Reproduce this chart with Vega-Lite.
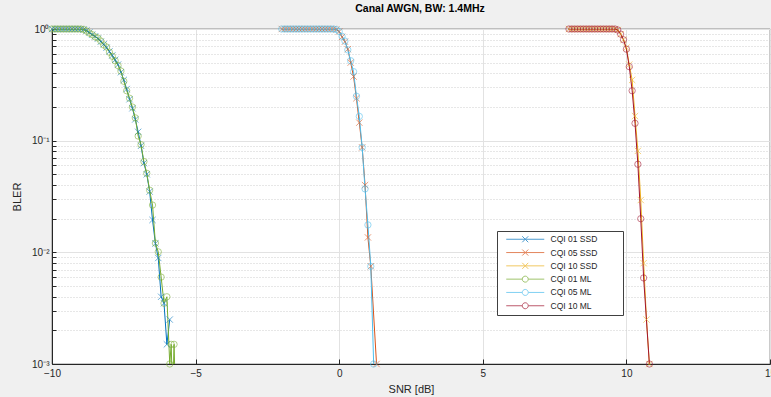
{
  "$schema": "https://vega.github.io/schema/vega-lite/v6.json",
  "width": 718,
  "height": 335,
  "autosize": {"type": "none"},
  "padding": {"left": 52, "top": 29, "right": 1, "bottom": 33},
  "background": "#f0f0f0",
  "title": {"text": "Canal AWGN, BW: 1.4MHz", "fontSize": 10.5, "fontWeight": "bold", "font": "Liberation Sans", "color": "#000000", "offset": 10, "dx": 9, "frame": "group"},
  "config": {
    "view": {"fill": "white", "stroke": "#262626", "strokeWidth": 0.6},
    "font": "Liberation Sans",
    "axis": {"labelFont": "Liberation Sans", "titleFont": "Liberation Sans"}
  },
  "data": {"values": [
    {"series":"CQI 01 SSD","snr":-10,"bler":1},{"series":"CQI 01 SSD","snr":-9.9,"bler":1},{"series":"CQI 01 SSD","snr":-9.8,"bler":1},{"series":"CQI 01 SSD","snr":-9.7,"bler":1},{"series":"CQI 01 SSD","snr":-9.6,"bler":1},{"series":"CQI 01 SSD","snr":-9.5,"bler":1},{"series":"CQI 01 SSD","snr":-9.4,"bler":1},{"series":"CQI 01 SSD","snr":-9.3,"bler":1},{"series":"CQI 01 SSD","snr":-9.2,"bler":1},{"series":"CQI 01 SSD","snr":-9.1,"bler":1},{"series":"CQI 01 SSD","snr":-9.0,"bler":1},
    {"series":"CQI 01 SSD","snr":-8.9,"bler":0.99},{"series":"CQI 01 SSD","snr":-8.8,"bler":0.97},{"series":"CQI 01 SSD","snr":-8.7,"bler":0.93},{"series":"CQI 01 SSD","snr":-8.6,"bler":0.89},{"series":"CQI 01 SSD","snr":-8.5,"bler":0.86},{"series":"CQI 01 SSD","snr":-8.4,"bler":0.82},{"series":"CQI 01 SSD","snr":-8.3,"bler":0.77},{"series":"CQI 01 SSD","snr":-8.2,"bler":0.73},{"series":"CQI 01 SSD","snr":-8.1,"bler":0.68},{"series":"CQI 01 SSD","snr":-8.0,"bler":0.63},{"series":"CQI 01 SSD","snr":-7.9,"bler":0.58},{"series":"CQI 01 SSD","snr":-7.8,"bler":0.53},{"series":"CQI 01 SSD","snr":-7.7,"bler":0.48},{"series":"CQI 01 SSD","snr":-7.6,"bler":0.41},{"series":"CQI 01 SSD","snr":-7.5,"bler":0.35},{"series":"CQI 01 SSD","snr":-7.4,"bler":0.29},{"series":"CQI 01 SSD","snr":-7.3,"bler":0.235},{"series":"CQI 01 SSD","snr":-7.2,"bler":0.195},{"series":"CQI 01 SSD","snr":-7.1,"bler":0.155},{"series":"CQI 01 SSD","snr":-7.0,"bler":0.12},{"series":"CQI 01 SSD","snr":-6.9,"bler":0.09},{"series":"CQI 01 SSD","snr":-6.8,"bler":0.063},{"series":"CQI 01 SSD","snr":-6.7,"bler":0.05},{"series":"CQI 01 SSD","snr":-6.6,"bler":0.035},{"series":"CQI 01 SSD","snr":-6.5,"bler":0.0195},{"series":"CQI 01 SSD","snr":-6.4,"bler":0.012},{"series":"CQI 01 SSD","snr":-6.3,"bler":0.0089},{"series":"CQI 01 SSD","snr":-6.2,"bler":0.004},{"series":"CQI 01 SSD","snr":-6.1,"bler":0.0035},{"series":"CQI 01 SSD","snr":-6.0,"bler":0.0015},{"series":"CQI 01 SSD","snr":-5.9,"bler":0.0025},
    {"series":"CQI 05 SSD","snr":-2.0,"bler":1},{"series":"CQI 05 SSD","snr":-1.9,"bler":1},{"series":"CQI 05 SSD","snr":-1.8,"bler":1},{"series":"CQI 05 SSD","snr":-1.7,"bler":1},{"series":"CQI 05 SSD","snr":-1.6,"bler":1},{"series":"CQI 05 SSD","snr":-1.5,"bler":1},{"series":"CQI 05 SSD","snr":-1.4,"bler":1},{"series":"CQI 05 SSD","snr":-1.3,"bler":1},{"series":"CQI 05 SSD","snr":-1.2,"bler":1},{"series":"CQI 05 SSD","snr":-1.1,"bler":1},{"series":"CQI 05 SSD","snr":-1.0,"bler":1},{"series":"CQI 05 SSD","snr":-0.9,"bler":1},{"series":"CQI 05 SSD","snr":-0.8,"bler":1},{"series":"CQI 05 SSD","snr":-0.7,"bler":1},{"series":"CQI 05 SSD","snr":-0.6,"bler":1},{"series":"CQI 05 SSD","snr":-0.5,"bler":1},{"series":"CQI 05 SSD","snr":-0.4,"bler":1},{"series":"CQI 05 SSD","snr":-0.3,"bler":1},{"series":"CQI 05 SSD","snr":-0.2,"bler":1},
    {"series":"CQI 05 SSD","snr":-0.1,"bler":0.99},{"series":"CQI 05 SSD","snr":0.0,"bler":0.95},{"series":"CQI 05 SSD","snr":0.1,"bler":0.85},{"series":"CQI 05 SSD","snr":0.2,"bler":0.77},{"series":"CQI 05 SSD","snr":0.3,"bler":0.66},{"series":"CQI 05 SSD","snr":0.4,"bler":0.5},{"series":"CQI 05 SSD","snr":0.5,"bler":0.375},{"series":"CQI 05 SSD","snr":0.6,"bler":0.24},{"series":"CQI 05 SSD","snr":0.7,"bler":0.145},{"series":"CQI 05 SSD","snr":0.8,"bler":0.087},{"series":"CQI 05 SSD","snr":0.9,"bler":0.04},{"series":"CQI 05 SSD","snr":1.0,"bler":0.0136},{"series":"CQI 05 SSD","snr":1.1,"bler":0.0075},{"series":"CQI 05 SSD","snr":1.3,"bler":0.001},
    {"series":"CQI 10 SSD","snr":8.0,"bler":1},{"series":"CQI 10 SSD","snr":8.1,"bler":1},{"series":"CQI 10 SSD","snr":8.2,"bler":1},{"series":"CQI 10 SSD","snr":8.3,"bler":1},{"series":"CQI 10 SSD","snr":8.4,"bler":1},{"series":"CQI 10 SSD","snr":8.5,"bler":1},{"series":"CQI 10 SSD","snr":8.6,"bler":1},{"series":"CQI 10 SSD","snr":8.7,"bler":1},{"series":"CQI 10 SSD","snr":8.8,"bler":1},{"series":"CQI 10 SSD","snr":8.9,"bler":1},{"series":"CQI 10 SSD","snr":9.0,"bler":1},{"series":"CQI 10 SSD","snr":9.1,"bler":1},{"series":"CQI 10 SSD","snr":9.2,"bler":1},{"series":"CQI 10 SSD","snr":9.3,"bler":1},{"series":"CQI 10 SSD","snr":9.4,"bler":1},{"series":"CQI 10 SSD","snr":9.5,"bler":1},{"series":"CQI 10 SSD","snr":9.6,"bler":1},
    {"series":"CQI 10 SSD","snr":9.7,"bler":0.98},{"series":"CQI 10 SSD","snr":9.8,"bler":0.9},{"series":"CQI 10 SSD","snr":9.9,"bler":0.8},{"series":"CQI 10 SSD","snr":10.0,"bler":0.68},{"series":"CQI 10 SSD","snr":10.1,"bler":0.48},{"series":"CQI 10 SSD","snr":10.2,"bler":0.35},{"series":"CQI 10 SSD","snr":10.3,"bler":0.166},{"series":"CQI 10 SSD","snr":10.4,"bler":0.081},{"series":"CQI 10 SSD","snr":10.5,"bler":0.0294},{"series":"CQI 10 SSD","snr":10.6,"bler":0.008},{"series":"CQI 10 SSD","snr":10.7,"bler":0.0025},{"series":"CQI 10 SSD","snr":10.8,"bler":0.001},
    {"series":"CQI 01 ML","snr":-10,"bler":1},{"series":"CQI 01 ML","snr":-9.9,"bler":1},{"series":"CQI 01 ML","snr":-9.8,"bler":1},{"series":"CQI 01 ML","snr":-9.7,"bler":1},{"series":"CQI 01 ML","snr":-9.6,"bler":1},{"series":"CQI 01 ML","snr":-9.5,"bler":1},{"series":"CQI 01 ML","snr":-9.4,"bler":1},{"series":"CQI 01 ML","snr":-9.3,"bler":1},{"series":"CQI 01 ML","snr":-9.2,"bler":1},{"series":"CQI 01 ML","snr":-9.1,"bler":1},{"series":"CQI 01 ML","snr":-9.0,"bler":1},
    {"series":"CQI 01 ML","snr":-8.9,"bler":0.99},{"series":"CQI 01 ML","snr":-8.8,"bler":0.96},{"series":"CQI 01 ML","snr":-8.7,"bler":0.92},{"series":"CQI 01 ML","snr":-8.6,"bler":0.89},{"series":"CQI 01 ML","snr":-8.5,"bler":0.85},{"series":"CQI 01 ML","snr":-8.4,"bler":0.83},{"series":"CQI 01 ML","snr":-8.3,"bler":0.78},{"series":"CQI 01 ML","snr":-8.2,"bler":0.72},{"series":"CQI 01 ML","snr":-8.1,"bler":0.69},{"series":"CQI 01 ML","snr":-8.0,"bler":0.62},{"series":"CQI 01 ML","snr":-7.9,"bler":0.57},{"series":"CQI 01 ML","snr":-7.8,"bler":0.52},{"series":"CQI 01 ML","snr":-7.7,"bler":0.47},{"series":"CQI 01 ML","snr":-7.6,"bler":0.42},{"series":"CQI 01 ML","snr":-7.5,"bler":0.34},{"series":"CQI 01 ML","snr":-7.4,"bler":0.28},{"series":"CQI 01 ML","snr":-7.3,"bler":0.24},{"series":"CQI 01 ML","snr":-7.2,"bler":0.2},{"series":"CQI 01 ML","snr":-7.1,"bler":0.16},{"series":"CQI 01 ML","snr":-7.0,"bler":0.11},{"series":"CQI 01 ML","snr":-6.9,"bler":0.092},{"series":"CQI 01 ML","snr":-6.8,"bler":0.065},{"series":"CQI 01 ML","snr":-6.7,"bler":0.051},{"series":"CQI 01 ML","snr":-6.6,"bler":0.036},{"series":"CQI 01 ML","snr":-6.5,"bler":0.0265},{"series":"CQI 01 ML","snr":-6.4,"bler":0.0121},{"series":"CQI 01 ML","snr":-6.3,"bler":0.0101},{"series":"CQI 01 ML","snr":-6.2,"bler":0.006},{"series":"CQI 01 ML","snr":-6.1,"bler":0.0035},{"series":"CQI 01 ML","snr":-6.0,"bler":0.004},{"series":"CQI 01 ML","snr":-5.9,"bler":0.001},{"series":"CQI 01 ML","snr":-5.85,"bler":0.0015},{"series":"CQI 01 ML","snr":-5.8,"bler":0.0005},{"series":"CQI 01 ML","snr":-5.75,"bler":0.0015},{"series":"CQI 01 ML","snr":-5.7,"bler":0.0005},
    {"series":"CQI 05 ML","snr":-2.0,"bler":1},{"series":"CQI 05 ML","snr":-1.9,"bler":1},{"series":"CQI 05 ML","snr":-1.8,"bler":1},{"series":"CQI 05 ML","snr":-1.7,"bler":1},{"series":"CQI 05 ML","snr":-1.6,"bler":1},{"series":"CQI 05 ML","snr":-1.5,"bler":1},{"series":"CQI 05 ML","snr":-1.4,"bler":1},{"series":"CQI 05 ML","snr":-1.3,"bler":1},{"series":"CQI 05 ML","snr":-1.2,"bler":1},{"series":"CQI 05 ML","snr":-1.1,"bler":1},{"series":"CQI 05 ML","snr":-1.0,"bler":1},{"series":"CQI 05 ML","snr":-0.9,"bler":1},{"series":"CQI 05 ML","snr":-0.8,"bler":1},{"series":"CQI 05 ML","snr":-0.7,"bler":1},{"series":"CQI 05 ML","snr":-0.6,"bler":1},{"series":"CQI 05 ML","snr":-0.5,"bler":1},{"series":"CQI 05 ML","snr":-0.4,"bler":1},{"series":"CQI 05 ML","snr":-0.3,"bler":1},{"series":"CQI 05 ML","snr":-0.2,"bler":1},
    {"series":"CQI 05 ML","snr":-0.1,"bler":0.99},{"series":"CQI 05 ML","snr":0.0,"bler":0.95},{"series":"CQI 05 ML","snr":0.1,"bler":0.86},{"series":"CQI 05 ML","snr":0.2,"bler":0.78},{"series":"CQI 05 ML","snr":0.3,"bler":0.65},{"series":"CQI 05 ML","snr":0.4,"bler":0.52},{"series":"CQI 05 ML","snr":0.5,"bler":0.415},{"series":"CQI 05 ML","snr":0.6,"bler":0.25},{"series":"CQI 05 ML","snr":0.7,"bler":0.165},{"series":"CQI 05 ML","snr":0.8,"bler":0.087},{"series":"CQI 05 ML","snr":0.9,"bler":0.037},{"series":"CQI 05 ML","snr":1.0,"bler":0.0176},{"series":"CQI 05 ML","snr":1.1,"bler":0.0075},{"series":"CQI 05 ML","snr":1.2,"bler":0.001},
    {"series":"CQI 10 ML","snr":8.0,"bler":1},{"series":"CQI 10 ML","snr":8.1,"bler":1},{"series":"CQI 10 ML","snr":8.2,"bler":1},{"series":"CQI 10 ML","snr":8.3,"bler":1},{"series":"CQI 10 ML","snr":8.4,"bler":1},{"series":"CQI 10 ML","snr":8.5,"bler":1},{"series":"CQI 10 ML","snr":8.6,"bler":1},{"series":"CQI 10 ML","snr":8.7,"bler":1},{"series":"CQI 10 ML","snr":8.8,"bler":1},{"series":"CQI 10 ML","snr":8.9,"bler":1},{"series":"CQI 10 ML","snr":9.0,"bler":1},{"series":"CQI 10 ML","snr":9.1,"bler":1},{"series":"CQI 10 ML","snr":9.2,"bler":1},{"series":"CQI 10 ML","snr":9.3,"bler":1},{"series":"CQI 10 ML","snr":9.4,"bler":1},{"series":"CQI 10 ML","snr":9.5,"bler":1},{"series":"CQI 10 ML","snr":9.6,"bler":1},
    {"series":"CQI 10 ML","snr":9.7,"bler":0.98},{"series":"CQI 10 ML","snr":9.8,"bler":0.9},{"series":"CQI 10 ML","snr":9.9,"bler":0.8},{"series":"CQI 10 ML","snr":10.0,"bler":0.66},{"series":"CQI 10 ML","snr":10.1,"bler":0.46},{"series":"CQI 10 ML","snr":10.2,"bler":0.28},{"series":"CQI 10 ML","snr":10.3,"bler":0.143},{"series":"CQI 10 ML","snr":10.4,"bler":0.0615},{"series":"CQI 10 ML","snr":10.5,"bler":0.02},{"series":"CQI 10 ML","snr":10.6,"bler":0.0059},{"series":"CQI 10 ML","snr":10.8,"bler":0.001}
  ]},
  "encoding": {
    "x": {"field": "snr", "type": "quantitative",
      "scale": {"domain": [-10, 15], "nice": false, "zero": false},
      "axis": {"title": "SNR [dB]", "values": [-10, -5, 0, 5, 10, 15], "grid": true, "gridColor": "#e2e2e2", "gridWidth": 1,
        "tickSize": -5, "tickColor": "#262626", "domainColor": "#262626", "labelPadding": 9, "labelFontSize": 10, "labelColor": "#262626",
        "titleFontSize": 11, "titleFontWeight": "normal", "titleColor": "#262626", "titlePadding": 5, "labelFlush": false}},
    "y": {"field": "bler", "type": "quantitative",
      "scale": {"type": "log", "domain": [0.001, 1], "nice": false},
      "axis": {"title": "BLER",
        "values": [0.001,0.002,0.003,0.004,0.005,0.006,0.007,0.008,0.009,0.01,0.02,0.03,0.04,0.05,0.06,0.07,0.08,0.09,0.1,0.2,0.3,0.4,0.5,0.6,0.7,0.8,0.9,1],
        "grid": true,
        "gridDash": {"condition": {"test": "datum.value==1||datum.value==0.1||datum.value==0.01||datum.value==0.001", "value": []}, "value": [1, 2]},
        "gridColor": {"condition": {"test": "datum.value==1||datum.value==0.1||datum.value==0.01||datum.value==0.001", "value": "#e2e2e2"}, "value": "#cfcfcf"},
        "tickSize": -4, "tickColor": "#262626", "domainColor": "#262626", "labelPadding": 7, "labelFontSize": 10, "labelColor": "#262626",
        "labelExpr": "datum.value==1?'10⁰':datum.value==0.1?'10⁻¹':datum.value==0.01?'10⁻²':datum.value==0.001?'10⁻³':''",
        "titleFontSize": 11, "titleFontWeight": "normal", "titleColor": "#262626", "titlePadding": 9, "labelFlush": false}},
    "color": {"field": "series", "type": "nominal",
      "scale": {"domain": ["CQI 01 SSD","CQI 05 SSD","CQI 10 SSD","CQI 01 ML","CQI 05 ML","CQI 10 ML"],
                "range": ["#0072BD","#D95319","#EDB120","#77AC30","#4DBEEE","#A2142F"]},
      "legend": {"orient": "none", "legendX": 445, "legendY": 202, "title": null, "fillColor": "white", "strokeColor": "#404040",
        "padding": 4, "labelFontSize": 8.5, "labelFont": "Liberation Sans", "labelColor": "#262626", "labelOffset": 41, "rowPadding": 2.3,
        "symbolSize": 36, "symbolStrokeWidth": 1, "symbolFillColor": "transparent",
        "labelExpr": "datum.label + '\u2002\u2002\u2002\u2002\u2002\u200b'"}}
  },
  "layer": [
    {"mark": {"type": "line", "strokeWidth": 1, "clip": true}},
    {"transform": [{"filter": "indexof(datum.series,'SSD')>=0 && datum.bler >= 0.001"}],
     "mark": {"type": "point", "filled": false, "size": 40, "strokeWidth": 0.8, "clip": false, "shape": "M-1,-1L1,1M-1,1L1,-1"}},
    {"transform": [{"filter": "indexof(datum.series,'ML')>=0 && datum.bler >= 0.001"}],
     "mark": {"type": "point", "filled": false, "size": 40, "strokeWidth": 0.8, "clip": false, "shape": "circle"}},
    {"transform": [{"filter": "false"}],
     "mark": {"type": "point", "filled": false, "size": 36, "strokeWidth": 1},
     "encoding": {"shape": {"field": "series", "type": "nominal",
       "scale": {"domain": ["CQI 01 SSD","CQI 05 SSD","CQI 10 SSD","CQI 01 ML","CQI 05 ML","CQI 10 ML"],
                 "range": ["M0.33,0H13M5.67,-1L7.67,1M5.67,1L7.67,-1","M0.33,0H13M5.67,-1L7.67,1M5.67,1L7.67,-1","M0.33,0H13M5.67,-1L7.67,1M5.67,1L7.67,-1",
                           "M0.33,0H5.67A1,1 0 1,1 7.67,0A1,1 0 1,1 5.67,0M7.67,0H13","M0.33,0H5.67A1,1 0 1,1 7.67,0A1,1 0 1,1 5.67,0M7.67,0H13","M0.33,0H5.67A1,1 0 1,1 7.67,0A1,1 0 1,1 5.67,0M7.67,0H13"]}}}}
  ]
}
